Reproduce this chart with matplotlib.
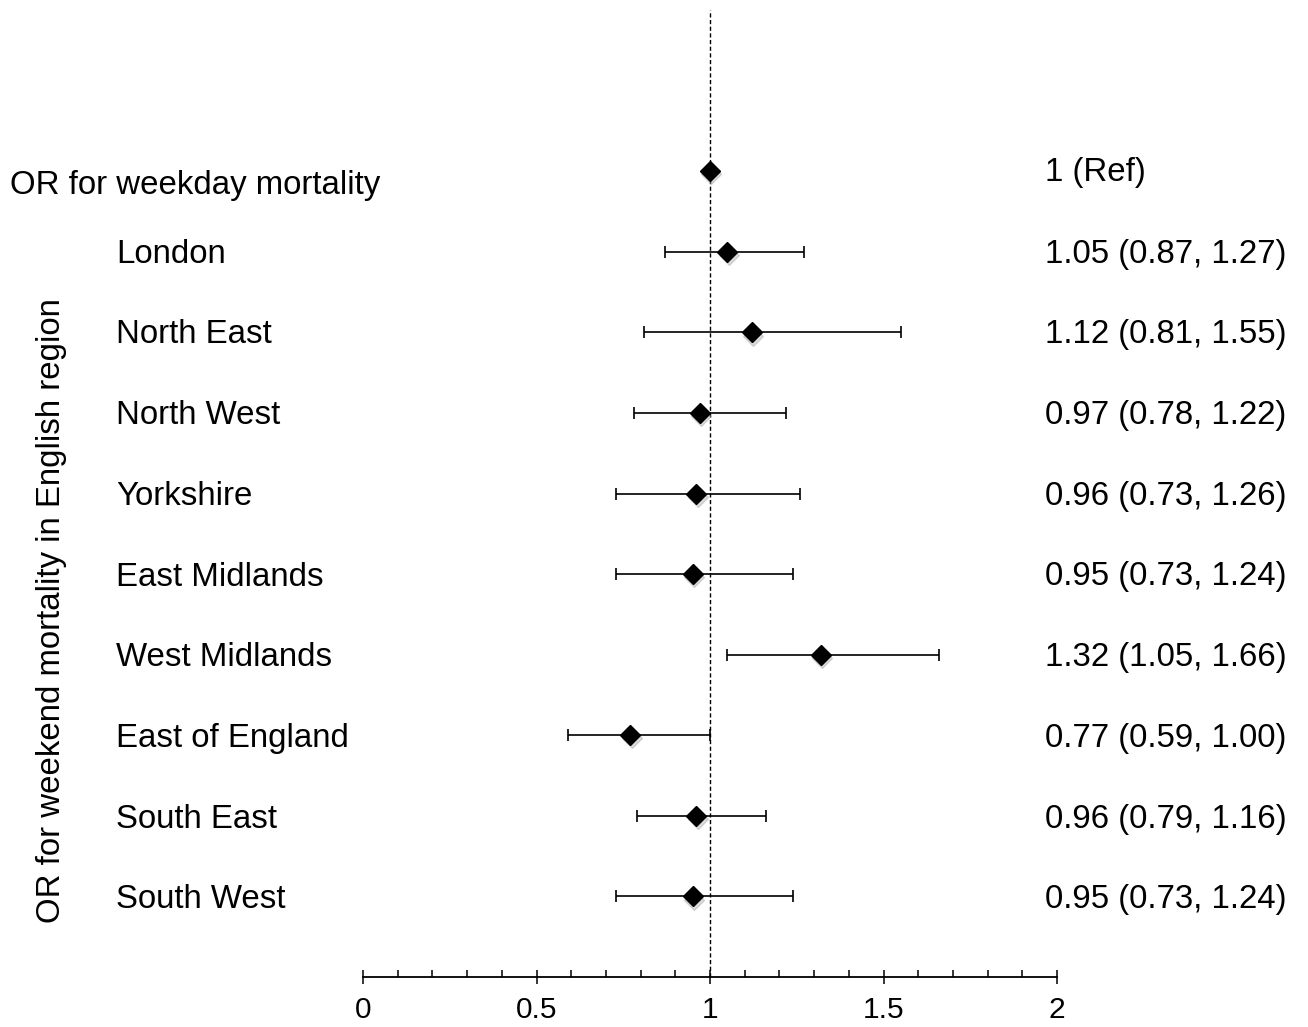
import matplotlib.pyplot as plt
from matplotlib.ticker import MultipleLocator

plt.rcParams['font.family'] = ['Liberation Sans', 'DejaVu Sans']

# data
regions = ['London', 'North East', 'North West', 'Yorkshire', 'East Midlands',
           'West Midlands', 'East of England', 'South East', 'South West']
odds = [1.05, 1.12, 0.97, 0.96, 0.95, 1.32, 0.77, 0.96, 0.95]
ci_low = [0.87, 0.81, 0.78, 0.73, 0.73, 1.05, 0.59, 0.79, 0.73]
ci_high = [1.27, 1.55, 1.22, 1.26, 1.24, 1.66, 1.00, 1.16, 1.24]
ref_label = 'OR for weekday mortality'
ref_value = 1.0
ylab = 'OR for weekend mortality in English region'

fig = plt.figure(figsize=(13.08, 10.27), dpi=100)
ax = fig.add_axes([363/1308, 1 - 977/1027, 694/1308, 967/1027])

rows = list(range(1, len(regions) + 1))

# reference line
ax.axvline(ref_value, color='black', lw=1, ls=(0, (3, 1.8)), zorder=1)

# ref point (with a faint shadow)
ax.plot([ref_value + 0.004], [0.04], marker='D', ms=10.5, color='#999999', alpha=0.35, zorder=2, ls='none')
ax.plot([ref_value], [0], marker='D', ms=10.5, color='black', zorder=3, ls='none')

# region estimates
err_lo = [o - l for o, l in zip(odds, ci_low)]
err_hi = [h - o for o, h in zip(odds, ci_high)]
ax.errorbar(odds, rows, xerr=[err_lo, err_hi], fmt='none', ecolor='black',
            elinewidth=1.2, capsize=4.5, capthick=1.2, zorder=2)
ax.plot([o + 0.004 for o in odds], [r + 0.04 for r in rows], marker='D', ms=10.5,
        color='#999999', alpha=0.35, ls='none', zorder=3)
ax.plot(odds, rows, marker='D', ms=10.5, color='black', ls='none', zorder=4)

# labels
fs = 23.8
def fy(ypix):
    return 1 - ypix / 1027

fig.text(10/1308, fy(194), ref_label, fontsize=fs, va='baseline', ha='left')
fig.text(1045/1308, fy(181), '1 (Ref)', fontsize=fs, va='baseline', ha='left')
for r, name, o, l, h in zip(rows, regions, odds, ci_low, ci_high):
    ypix = 172 + r * 80.7 + 10
    fig.text(116/1308, fy(ypix), name, fontsize=fs, va='baseline', ha='left')
    fig.text(1045/1308, fy(ypix), '%.2f (%.2f, %.2f)' % (o, l, h),
             fontsize=fs, va='baseline', ha='left')
fig.text(52/1308, fy(611), ylab, fontsize=fs, rotation=90, va='center', ha='center')

ax.set_xlim(0, 2)
ax.set_ylim(10, -2)
for s in ['left', 'top', 'right']:
    ax.spines[s].set_visible(False)
ax.spines['bottom'].set_linewidth(1.3)
ax.set_yticks([])
ax.xaxis.set_minor_locator(MultipleLocator(0.1))
ax.set_xticks([0, 0.5, 1, 1.5, 2])
ax.set_xticklabels(['0', '0.5', '1', '1.5', '2'])
ax.tick_params(axis='x', which='major', direction='inout', length=10, width=1.1,
               labelsize=21.5, pad=9)
ax.tick_params(axis='x', which='minor', direction='in', length=5, width=1.1)
ax.patch.set_visible(False)

plt.savefig('out.png', dpi=100)
